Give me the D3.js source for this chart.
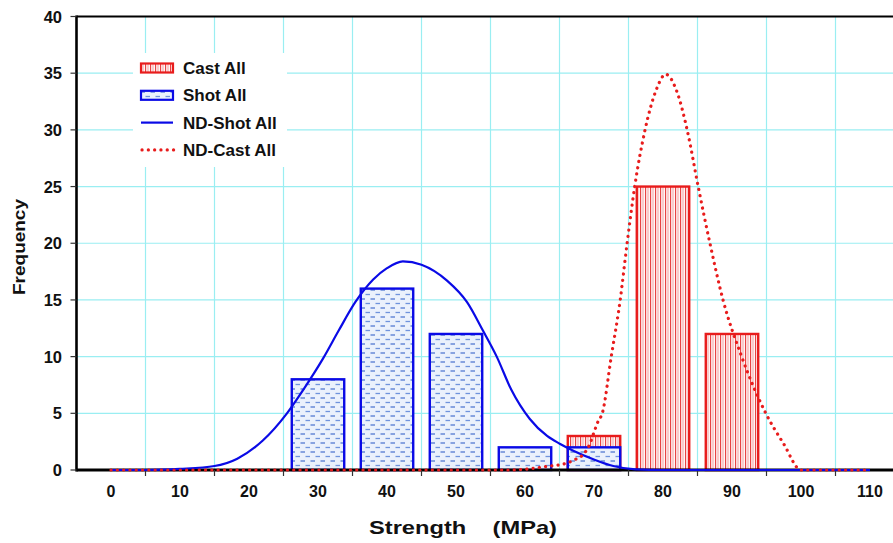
<!DOCTYPE html>
<html>
<head>
<meta charset="utf-8">
<script src="https://cdn.jsdelivr.net/npm/d3@7"></script>
<style>
  body { margin: 0; background: #fff; }
  text { font-family: "Liberation Sans", Arial, sans-serif; font-weight: bold; fill: #111; }
</style>
</head>
<body>
<div id="chartArea"></div>
<script>
// Data
const strengthBins = [0, 10, 20, 30, 40, 50, 60, 70, 80, 90, 100, 110];
const shotAll = [0, 0, 0, 8, 16, 12, 2, 2, 0, 0, 0, 0];
const castAll = [0, 0, 0, 0, 0, 0, 0, 3, 25, 12, 0, 0];

const shotNDx = [0, 5, 10, 15, 18.3, 22, 25.5, 28, 30.7, 33, 35.4, 38, 40, 42.3, 45, 48.7, 51.6, 53.9, 55.9, 58, 60.7, 63.2, 65.1, 67, 69.9, 72.8, 76, 80, 90, 100, 110];
const shotNDy = [0, 0, 0.1, 0.35, 1.0, 2.6, 5, 7.2, 9.8, 12.3, 14.8, 16.8, 17.8, 18.4, 18.1, 16.7, 14.8, 12.3, 10, 7.1, 4.5, 3.0, 2.3, 1.7, 0.95, 0.35, 0.05, 0, 0, 0, 0];

const castNDx = [0, 10, 20, 30, 40, 50, 58, 63, 66, 67.5, 68.5, 69.4, 70.1, 70.6, 71.2, 72.5, 73.8, 74.8, 75.9, 77.4, 79, 80.4, 82, 83.5, 85.1, 86.8, 88.7, 91.4, 94.9, 97.5, 100, 105, 110];
const castNDy = [0, 0, 0, 0, 0, 0, 0, 0.3, 0.6, 1.0, 1.4, 2.3, 3.5, 4.3, 5, 10, 15, 20, 25, 30, 33.5, 34.9, 33.4, 30, 25, 20, 15, 10, 5, 2.3, 0, 0, 0];

const yTicks = [0, 5, 10, 15, 20, 25, 30, 35, 40];
const xGrid = [5, 15, 25, 35, 45, 55, 65, 75, 85, 95, 105];

const legendItems = ["Cast All", "Shot All", "ND-Shot All", "ND-Cast All"];

// Dimensions
const width = 893, height = 543;
const blue = "#0a0ae6", red = "#e81c1c", grid = "#9aeef2";

const x = d3.scaleLinear().domain([-5, 115]).range([76.5, 904.5]);
const y = d3.scaleLinear().domain([0, 40]).range([470, 16.5]);
const barW = x(7.6) - x(0);

const svg = d3.select("#chartArea")
    .append("svg")
    .attr("width", width)
    .attr("height", height);

// Patterns
const defs = svg.append("defs");

const vlines = defs.append("pattern")
    .attr("id", "vlines")
    .attr("patternUnits", "userSpaceOnUse")
    .attr("width", 5).attr("height", 5);
vlines.append("rect").attr("width", 5).attr("height", 5).attr("fill", "#fff6f6");
vlines.append("line").attr("x1", 0.6).attr("x2", 0.6).attr("y1", 0).attr("y2", 5)
    .attr("stroke", "#e63a3a").attr("stroke-width", 1.1);
vlines.append("line").attr("x1", 3).attr("x2", 3).attr("y1", 0).attr("y2", 5)
    .attr("stroke", "#f3a0a0").attr("stroke-width", 1);

const dashes = defs.append("pattern")
    .attr("id", "dashes")
    .attr("patternUnits", "userSpaceOnUse")
    .attr("width", 10).attr("height", 9);
dashes.append("rect").attr("width", 10).attr("height", 9).attr("fill", "#eaf1fc");
dashes.append("line").attr("x1", 0.5).attr("x2", 5).attr("y1", 2).attr("y2", 2)
    .attr("stroke", "#5179d2").attr("stroke-width", 1.3);
dashes.append("line").attr("x1", 5.5).attr("x2", 10).attr("y1", 6.5).attr("y2", 6.5)
    .attr("stroke", "#6f93dc").attr("stroke-width", 1.3);

// Gridlines
svg.append("g")
    .selectAll("line")
    .data(yTicks.filter(d => d > 0 && d < 40))
    .join("line")
    .attr("x1", x(-5)).attr("x2", width)
    .attr("y1", d => y(d)).attr("y2", d => y(d))
    .attr("stroke", grid).attr("stroke-width", 1.2);

svg.append("g")
    .selectAll("line")
    .data(xGrid)
    .join("line")
    .attr("x1", d => x(d)).attr("x2", d => x(d))
    .attr("y1", y(40)).attr("y2", y(0))
    .attr("stroke", grid).attr("stroke-width", 1.2);

// Bars
const bars = (g, values, fill, stroke) => g.append("g")
    .selectAll("rect")
    .data(strengthBins.map((b, i) => ({ bin: b, value: values[i] })).filter(d => d.value > 0))
    .join("rect")
    .attr("x", d => x(d.bin) - barW / 2)
    .attr("y", d => y(d.value))
    .attr("width", barW)
    .attr("height", d => y(0) - y(d.value))
    .attr("fill", fill)
    .attr("stroke", stroke)
    .attr("stroke-width", 2.4);

svg.call(bars, castAll, "url(#vlines)", red);
svg.call(bars, shotAll, "url(#dashes)", blue);

// Axes
svg.append("line")
    .attr("x1", x(-5)).attr("x2", width)
    .attr("y1", y(40)).attr("y2", y(40))
    .attr("stroke", "#000").attr("stroke-width", 2);

svg.append("line")
    .attr("x1", x(-5)).attr("x2", width)
    .attr("y1", y(0)).attr("y2", y(0))
    .attr("stroke", "#000").attr("stroke-width", 3);

svg.append("line")
    .attr("x1", x(-5)).attr("x2", x(-5))
    .attr("y1", y(40) - 1).attr("y2", y(0) + 1.5)
    .attr("stroke", "#000").attr("stroke-width", 2.6);

svg.append("g")
    .selectAll("line")
    .data(yTicks)
    .join("line")
    .attr("x1", x(-5) - 6).attr("x2", x(-5))
    .attr("y1", d => y(d)).attr("y2", d => y(d))
    .attr("stroke", "#333").attr("stroke-width", 1.2);

svg.append("g")
    .selectAll("line")
    .data(xGrid)
    .join("line")
    .attr("x1", d => x(d)).attr("x2", d => x(d))
    .attr("y1", y(0)).attr("y2", y(0) + 6)
    .attr("stroke", "#333").attr("stroke-width", 1.2);

svg.append("g")
    .selectAll("text")
    .data(yTicks)
    .join("text")
    .attr("x", 62)
    .attr("y", d => y(d) + 6)
    .attr("text-anchor", "end")
    .style("font-size", "16.5px")
    .text(d => d);

svg.append("g")
    .selectAll("text")
    .data(strengthBins)
    .join("text")
    .attr("x", d => x(d))
    .attr("y", 497)
    .attr("text-anchor", "middle")
    .style("font-size", "16px")
    .text(d => d);

// ND lines
const line = d3.line()
    .x(d => x(d[0]))
    .y(d => y(d[1]))
    .curve(d3.curveMonotoneX);

svg.append("path")
    .attr("d", line(shotNDx.map((v, i) => [v, shotNDy[i]])))
    .attr("fill", "none")
    .attr("stroke", blue)
    .attr("stroke-width", 2.2);

svg.append("path")
    .attr("d", line(castNDx.map((v, i) => [v, castNDy[i]])))
    .attr("fill", "none")
    .attr("stroke", red)
    .attr("stroke-width", 3.2)
    .attr("stroke-linecap", "round")
    .attr("stroke-dasharray", "0.1 6.2");

// Titles
svg.append("text")
    .attr("x", 463)
    .attr("y", 534)
    .attr("text-anchor", "middle")
    .style("font-size", "19px")
    .attr("textLength", 188)
    .attr("lengthAdjust", "spacingAndGlyphs")
    .attr("xml:space", "preserve")
    .text("Strength    (MPa)");

svg.append("text")
    .attr("transform", "translate(25,247) rotate(-90)")
    .attr("text-anchor", "middle")
    .style("font-size", "17px")
    .attr("textLength", 96)
    .attr("lengthAdjust", "spacingAndGlyphs")
    .text("Frequency");

// Legend
const legend = svg.append("g").attr("id", "legend");

legend.append("rect")
    .attr("x", 133).attr("y", 53)
    .attr("width", 154).attr("height", 114)
    .attr("fill", "#fff");

const rowY = i => 68 + i * 27.3;

legend.append("rect")
    .attr("x", 141).attr("y", rowY(0) - 4.5)
    .attr("width", 32).attr("height", 9)
    .attr("fill", "url(#vlines)").attr("stroke", red).attr("stroke-width", 2.2);

legend.append("rect")
    .attr("x", 141).attr("y", rowY(1) - 4.5)
    .attr("width", 32).attr("height", 9)
    .attr("fill", "url(#dashes)").attr("stroke", blue).attr("stroke-width", 2.2);

legend.append("line")
    .attr("x1", 141).attr("x2", 173)
    .attr("y1", rowY(2)).attr("y2", rowY(2))
    .attr("stroke", blue).attr("stroke-width", 2.2);

legend.append("line")
    .attr("x1", 142).attr("x2", 174)
    .attr("y1", rowY(3)).attr("y2", rowY(3))
    .attr("stroke", red).attr("stroke-width", 3.2)
    .attr("stroke-linecap", "round")
    .attr("stroke-dasharray", "0.1 6.2");

legend.append("g")
    .selectAll("text")
    .data(legendItems)
    .join("text")
    .attr("x", 183)
    .attr("y", (d, i) => rowY(i) + 6)
    .style("font-size", "17px")
    .text(d => d);
</script>
</body>
</html>
